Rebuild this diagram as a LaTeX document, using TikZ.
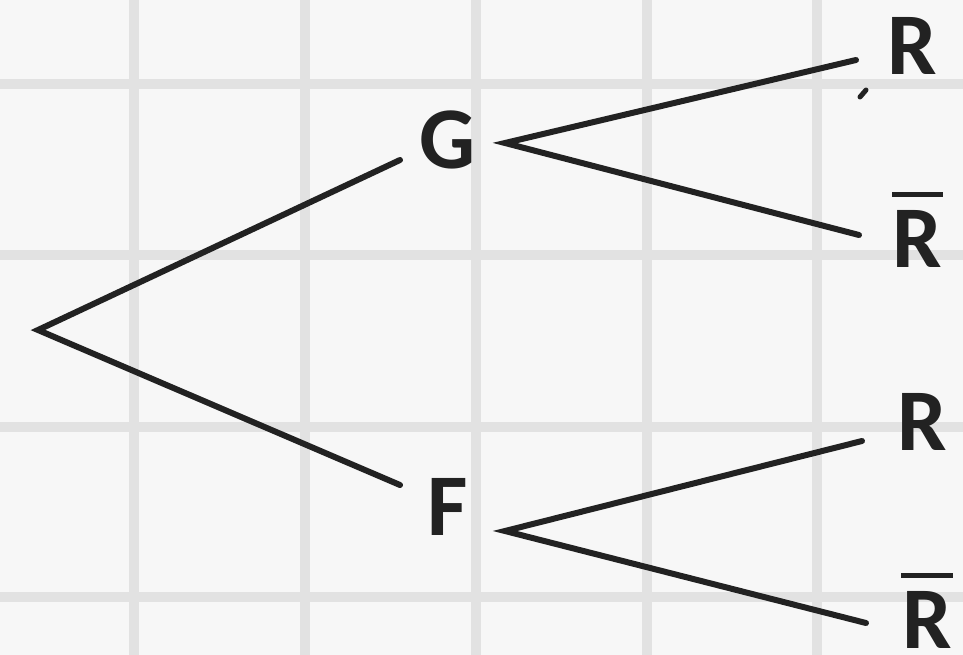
\documentclass[tikz,border=0pt]{standalone}
\usepackage{fontspec}
\setmainfont{Carlito}
\definecolor{paper}{HTML}{F7F7F7}
\definecolor{gridgray}{HTML}{E2E2E2}
\definecolor{ink}{HTML}{222222}
\begin{document}
\begin{tikzpicture}[x=1pt,y=-1pt,
  branch/.style={line width=6pt, draw=ink, line cap=round},
  lab/.style={font=\fontsize{88}{90}\selectfont\bfseries, text=ink, inner sep=0pt, anchor=base},
  negbar/.style={line width=5pt, draw=ink}]
% squared paper
\fill[paper] (0,0) rectangle (963,655);
\useasboundingbox (0,0) rectangle (963,655);
\foreach \x in {134,305,476,647,817}
  \draw[gridgray, line width=10pt] (\x,0) -- (\x,655);
\foreach \y in {84,255,427,597}
  \draw[gridgray, line width=10pt] (0,\y) -- (963,\y);

% labels
\node[lab] (G)  at (448,168) {G};
\node[lab] (F)  at (448,535) {F};
\node[lab] (R1) at (912,75)  {R};
\node[lab] (R2) at (917,267) {R};
\node[lab] (R3) at (922,450) {R};
\node[lab] (R4) at (927,648) {R};
\draw[negbar] ([xshift=-25pt,yshift=15pt]R2.north) -- ([xshift=26pt,yshift=15pt]R2.north);
\draw[negbar] ([xshift=-26pt,yshift=15pt]R4.north) -- ([xshift=26pt,yshift=15pt]R4.north);

% branch ends
\coordinate (root) at (38,330);
\coordinate (gin)  at (400,160);
\coordinate (fin)  at (400,485);
\coordinate (gout) at (505,143);
\coordinate (fout) at (505,531);
\coordinate (r1)   at (856,60);
\coordinate (r2)   at (859,235);
\coordinate (r3)   at (862,441);
\coordinate (r4)   at (866,623);

% tree
\draw[branch] (gin) -- (root) -- (fin);
\draw[branch] (r1) -- (gout) -- (r2);
\draw[branch] (r3) -- (fout) -- (r4);

% stray pen mark
\coordinate (m1) at (860,97);
\coordinate (m2) at (866,90);
\draw[branch, line width=5pt] (m1) -- (m2);
\end{tikzpicture}
\end{document}
